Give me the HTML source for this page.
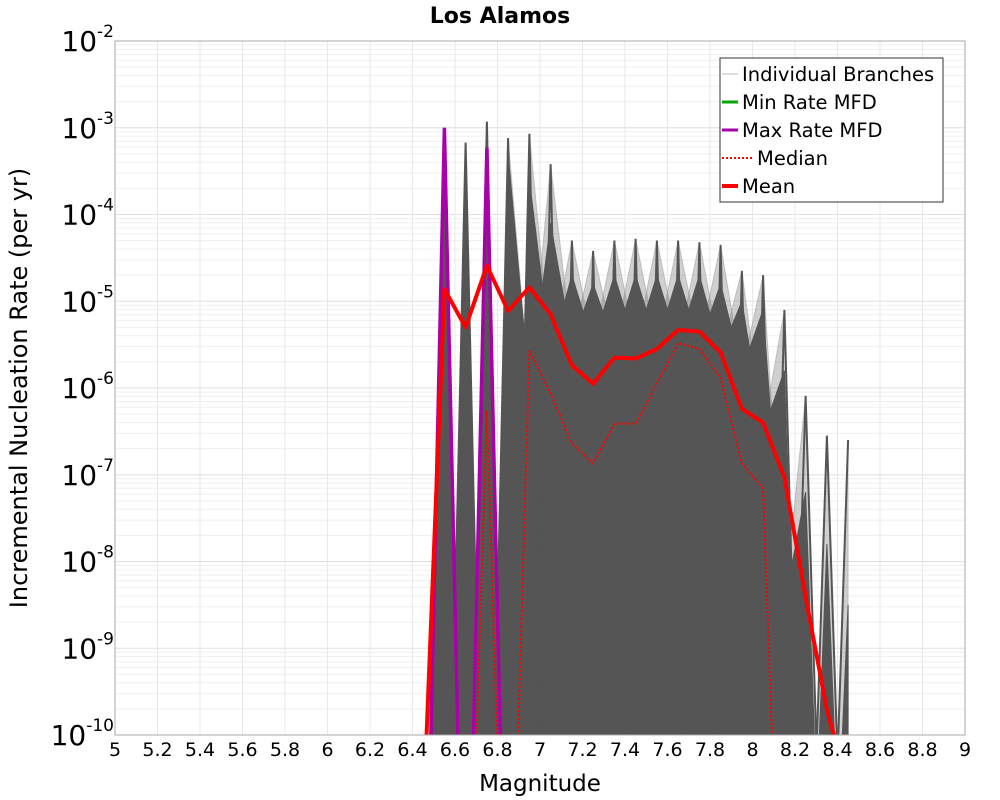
<!DOCTYPE html>
<html><head><meta charset="utf-8"><style>
html,body{margin:0;background:#fff;overflow:hidden;width:1000px;height:800px;}
svg{display:block;}
svg text{font-family:"DejaVu Sans","Liberation Sans",sans-serif;}
</style></head><body>
<svg id="chart" width="1000" height="800" xmlns="http://www.w3.org/2000/svg">
<defs><clipPath id="pc"><rect x="115" y="41" width="850" height="694"/></clipPath></defs>
<rect width="1000" height="800" fill="#fff"/>
<text x="500" y="23" font-size="22" font-weight="bold" text-anchor="middle">Los Alamos</text>
<g id="grid"></g>
<g id="series" clip-path="url(#pc)"></g>
<rect x="115" y="41" width="850" height="694" fill="none" stroke="#aaa" stroke-width="1"/>
<g id="axes"></g>
<text x="540" y="791" font-size="23" text-anchor="middle">Magnitude</text>
<text transform="translate(27,388) rotate(-90)" font-size="24" text-anchor="middle">Incremental Nucleation Rate (per yr)</text>
<g>
<rect x="720" y="58" width="223" height="144" fill="#fff" stroke="#333" stroke-width="1"/>
<line x1="722" y1="74" x2="738" y2="74" stroke="#bbb" stroke-width="1"/>
<text x="742" y="81" font-size="19.5">Individual Branches</text>
<line x1="722" y1="102" x2="738" y2="102" stroke="#00aa00" stroke-width="3"/>
<text x="742" y="109" font-size="19.5">Min Rate MFD</text>
<line x1="722" y1="130" x2="738" y2="130" stroke="#aa00aa" stroke-width="3"/>
<text x="742" y="137" font-size="19.5">Max Rate MFD</text>
<line x1="722" y1="158" x2="752" y2="158" stroke="#f00" stroke-width="2" stroke-dasharray="2,2"/>
<text x="757" y="165" font-size="19.5">Median</text>
<line x1="722" y1="186" x2="738" y2="186" stroke="#f00" stroke-width="4"/>
<text x="742" y="193" font-size="19.5">Mean</text>
</g>
</svg>
<script>
const bins=[6.45,6.55,6.65,6.75,6.85,6.95,7.05,7.15,7.25,7.35,7.45,7.55,7.65,7.75,7.85,7.95,8.05,8.15,8.25,8.35,8.45];
const meanLog=[-11,-4.86,-5.30,-4.59,-5.11,-4.84,-5.15,-5.74,-5.95,-5.65,-5.66,-5.55,-5.33,-5.35,-5.59,-6.24,-6.40,-7.03,-8.41,-9.71,-10.6];
const medianLog=[-14,-14,-14,-6.26,-14,-5.57,-6.06,-6.64,-6.87,-6.41,-6.41,-5.95,-5.48,-5.55,-5.88,-6.87,-7.16,-14,-14,-14,-14];
const maxRateLog=[-14,-3.0,-14,-3.23,-14,-14,-14,-14,-14,-14,-14,-14,-14,-14,-14,-14,-14,-14,-14,-14,-14];
const minRateLog=[-14,-14,-14,-14,-14,-14,-14,-14,-14,-14,-14,-14,-14,-14,-14,-14,-14,-14,-14,-14,-14];
const branchMaxLog=[-14,-3.0,-3.17,-2.93,-3.12,-3.07,-3.42,-4.3,-4.42,-4.3,-4.28,-4.3,-4.3,-4.32,-4.35,-4.65,-4.7,-5.1,-6.09,-6.55,-6.6];
const branchCoreLog=[-14,-3.3,-3.3,-3.3,-3.3,-3.6,-4.1,-4.7,-4.8,-4.7,-4.7,-4.7,-4.7,-4.7,-4.8,-5.0,-5.1,-5.8,-7.2,-7.8,-8.5];
const branchFloorLog=[-14,-14,-14,-14,-14,-6.0,-5.6,-5.5,-5.5,-5.5,-5.5,-5.5,-5.5,-5.5,-5.6,-5.8,-6.5,-8.5,-14,-14,-14];
const xTicks=[5,5.2,5.4,5.6,5.8,6,6.2,6.4,6.6,6.8,7,7.2,7.4,7.6,7.8,8,8.2,8.4,8.6,8.8,9];
const yTicks=[-2,-3,-4,-5,-6,-7,-8,-9,-10];
const X=m=>115+(m-5)*212.5;
const Y=l=>41+(-2-l)*86.75;
const NS='http://www.w3.org/2000/svg';
function mk(tag,attrs,parent){const e=document.createElementNS(NS,tag);for(const k in attrs)e.setAttribute(k,attrs[k]);parent.appendChild(e);return e;}
const grid=document.getElementById('grid'),ser=document.getElementById('series'),axes=document.getElementById('axes');
for(let d=-10;d<-2;d++){for(let k=2;k<10;k++){const y=Y(d+Math.log10(k));const l=mk('line',{x1:115,x2:965,y1:y,y2:y,stroke:'#efefef','stroke-width':1},grid);}}
yTicks.forEach(t=>{const y=Y(t);const l=mk('line',{x1:115,x2:965,y1:y,y2:y,stroke:'#e0e0e0','stroke-width':1},grid);
const tx=mk('text',{x:100,y:y+10,'font-size':28,'text-anchor':'end'},axes);
tx.textContent='10';const s=mk('tspan',{dy:-14,'font-size':17},tx);s.textContent=String(t);tx.setAttribute('x',114);});
xTicks.forEach(t=>{const x=X(t);const l=mk('line',{x1:x,x2:x,y1:41,y2:735,stroke:'#e8e8e8','stroke-width':1},grid);
const tx=mk('text',{x:x,y:756,'font-size':19,'text-anchor':'middle'},axes);tx.textContent=String(t);});
function pts(arr){return arr.map((v,i)=>X(bins[i]).toFixed(1)+','+Y(v).toFixed(1)).join(' ');}
function alt(arr,floor,parity){return arr.map((v,i)=>(i%2===parity)?v:floor[i]);}
const lowArr=bins.map(()=>-14);
[0,1].forEach(p=>{const a=alt(branchMaxLog,branchFloorLog,p);
const pg=mk('polygon',{points:X(bins[0])+','+Y(-14)+' '+pts(a)+' '+X(bins[bins.length-1])+','+Y(-14),fill:'#777','fill-opacity':0.35,stroke:'#999','stroke-opacity':0.5,'stroke-width':1},ser);
});
[0,1].forEach(p=>{const a=alt(branchCoreLog,branchFloorLog,p);
const pg=mk('polygon',{points:X(bins[0])+','+Y(-14)+' '+pts(a)+' '+X(bins[bins.length-1])+','+Y(-14),fill:'#555',stroke:'#555','stroke-width':1},ser);
});
[0,1].forEach(p=>{const a=alt(branchMaxLog,lowArr,p);
const pl=mk('polyline',{points:pts(a),fill:'none',stroke:'#555','stroke-width':2},ser);
});
const mn=mk('polyline',{points:pts(minRateLog),fill:'none',stroke:'#00aa00','stroke-width':3},ser);

const mx=mk('polyline',{points:pts(maxRateLog),fill:'none',stroke:'#aa00aa','stroke-width':3.5},ser);

const md=mk('polyline',{points:pts(medianLog),fill:'none',stroke:'#f00','stroke-width':2,'stroke-dasharray':'2,2'},ser);

const me=mk('polyline',{points:pts(meanLog),fill:'none',stroke:'#f00','stroke-width':4,'stroke-linejoin':'round'},ser);

</script>
</body></html>
